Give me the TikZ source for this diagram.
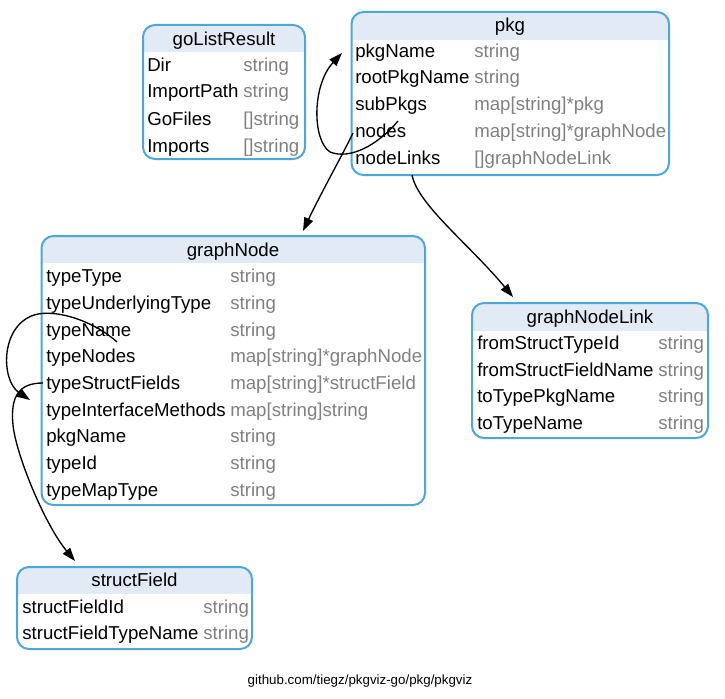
\documentclass[tikz,border=0pt]{standalone}
\usepackage{fontspec}
\setmainfont{Liberation Sans}
\usetikzlibrary{arrows.meta,fit}

\definecolor{tblblue}{RGB}{76,168,214}
\definecolor{hdrfill}{RGB}{225,234,245}
\definecolor{typegray}{RGB}{128,128,128}

% box with a shaded title band: id, x1, y1, x2, y2, bottom of title band
\newcommand\structbox[6]{%
  \coordinate (#1-nw) at (#2,#3);
  \coordinate (#1-se) at (#4,#5);
  \begin{scope}
    \clip[rounded corners=9pt] (#1-nw) rectangle (#1-se);
    \fill[hdrfill] (#1-nw) rectangle (#4,#6);
  \end{scope}
  \node[tblbox, fit=(#1-nw)(#1-se)] (#1) {};
}
% one field row: id, x of name, x of type, y of row centre, name, type
\newcommand\fieldrow[6]{%
  \node[fname] (#1) at (#2,#4+6) {#5};
  \node[ftype] (#1-t) at (#3,#4+6) {#6};
}

\begin{document}
\begin{tikzpicture}[x=0.75pt,y=-0.75pt,
  tblbox/.style={draw=tblblue, line width=1.5pt, rounded corners=9pt, inner sep=0pt},
  ttl/.style={anchor=base, inner sep=0pt, font=\fontsize{14}{16}\selectfont},
  fname/.style={anchor=base west, inner sep=0pt, font=\fontsize{14}{16}\selectfont},
  ftype/.style={fname, text=typegray},
  link/.style={line width=1pt, -{Triangle[length=10pt,width=7pt]}},
  foot/.style={anchor=base, inner sep=0pt, font=\fontsize{10}{12}\selectfont}]

\useasboundingbox (0,0) rectangle (725,699);

% goListResult
\structbox{goListResult}{143}{25}{305}{159}{52}
\node[ttl] (goListResult-title) at (224,46) {goListResult};
\fieldrow{glr-Dir}{147}{243}{66}{Dir}{string}
\fieldrow{glr-ImportPath}{147}{243}{92}{ImportPath}{string}
\fieldrow{glr-GoFiles}{147}{243}{119}{GoFiles}{[]string}
\fieldrow{glr-Imports}{147}{243}{146}{Imports}{[]string}

% pkg
\structbox{pkg}{351.5}{12}{669}{175}{40}
\node[ttl] (pkg-title) at (510,32) {pkg};
\fieldrow{pkg-pkgName}{355}{474}{51.5}{pkgName}{string}
\fieldrow{pkg-rootPkgName}{355}{474}{78}{rootPkgName}{string}
\fieldrow{pkg-subPkgs}{355}{474}{105}{subPkgs}{map[string]*pkg}
\fieldrow{pkg-nodes}{355}{474}{131.5}{nodes}{map[string]*graphNode}
\fieldrow{pkg-nodeLinks}{355}{474}{158}{nodeLinks}{[]graphNodeLink}

% graphNode
\structbox{graphNode}{41.5}{236}{425}{505}{263}
\node[ttl] (graphNode-title) at (233,256) {graphNode};
\fieldrow{gn-typeType}{46}{230}{276}{typeType}{string}
\fieldrow{gn-typeUnderlyingType}{46}{230}{303}{typeUnderlyingType}{string}
\fieldrow{gn-typeName}{46}{230}{330}{typeName}{string}
\fieldrow{gn-typeNodes}{46}{230}{356}{typeNodes}{map[string]*graphNode}
\fieldrow{gn-typeStructFields}{46}{230}{383}{typeStructFields}{map[string]*structField}
\fieldrow{gn-typeInterfaceMethods}{46}{230}{410}{typeInterfaceMethods}{map[string]string}
\fieldrow{gn-pkgName}{46}{230}{436.5}{pkgName}{string}
\fieldrow{gn-typeId}{46}{230}{463}{typeId}{string}
\fieldrow{gn-typeMapType}{46}{230}{490}{typeMapType}{string}

% graphNodeLink
\structbox{graphNodeLink}{472}{303}{708}{438}{331}
\node[ttl] (graphNodeLink-title) at (590,323) {graphNodeLink};
\fieldrow{gnl-fromStructTypeId}{477}{658}{343}{fromStructTypeId}{string}
\fieldrow{gnl-fromStructFieldName}{477}{658}{370}{fromStructFieldName}{string}
\fieldrow{gnl-toTypePkgName}{477}{658}{396.5}{toTypePkgName}{string}
\fieldrow{gnl-toTypeName}{477}{658}{423}{toTypeName}{string}

% structField
\structbox{structField}{17}{567}{252}{649}{594}
\node[ttl] (structField-title) at (134.5,586) {structField};
\fieldrow{sf-structFieldId}{22}{203}{607}{structFieldId}{string}
\fieldrow{sf-structFieldTypeName}{22}{203}{633}{structFieldTypeName}{string}

% edge ports
\coordinate (p-subPkgs) at (398,121);
\coordinate (p-subPkgs-in) at (342,53);
\coordinate (p-nodes) at (353,133);
\coordinate (gn-in) at (303,231);
\coordinate (p-nodeLinks) at (412,175);
\coordinate (gnl-in) at (513,297);
\coordinate (gn-typeNodes-out) at (117,342);
\coordinate (gn-typeNodes-in) at (30,400);
\coordinate (gn-typeStructFields-out) at (43,383);
\coordinate (sf-in) at (75,561);

% connectors
\draw[link] (p-subPkgs) .. controls (378,145) and (350,160) .. (330,152)
  .. controls (312,140) and (312,85) .. (p-subPkgs-in);
\draw[link] (p-nodes) .. controls (345,150) and (320,195) .. (gn-in);
\draw[link] (p-nodeLinks) .. controls (418,205) and (470,245) .. (gnl-in);
\draw[link] (gn-typeNodes-out) .. controls (95,322) and (60,310) .. (38,314)
  .. controls (0,322) and (0,380) .. (gn-typeNodes-in);
\draw[link] (gn-typeStructFields-out) .. controls (20,383) and (10,395) .. (13,425)
  .. controls (16,455) and (45,525) .. (sf-in);

\node[foot] (caption) at (360,684) {github.com/tiegz/pkgviz-go/pkg/pkgviz};
\end{tikzpicture}
\end{document}
